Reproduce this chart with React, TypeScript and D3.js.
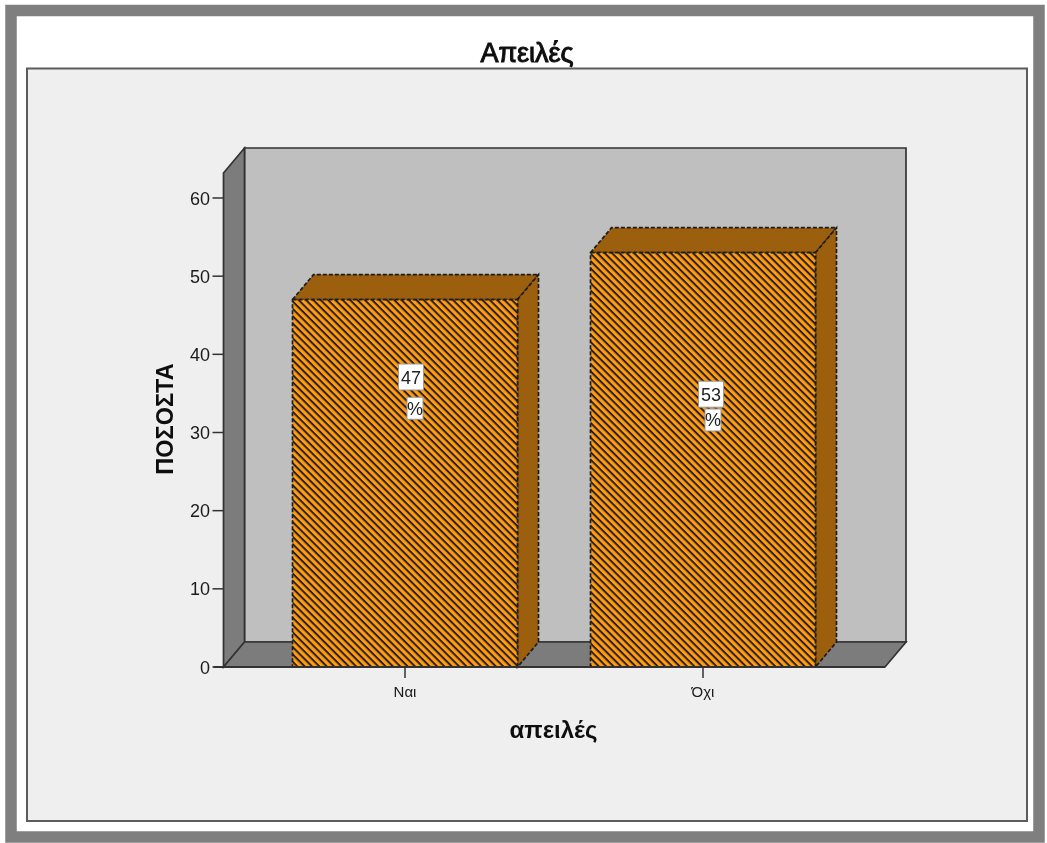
import React from "react";
import * as d3 from "d3";

const categories = ["Ναι", "Όχι"];
const values = [47, 53];
const valueLabels = ["47", "53"];
const labelCenters = [37.1, 34.9];
const percentCenters = [33.1, 31.6];
const yTicks = [0, 10, 20, 30, 40, 50, 60];
const title = "Απειλές";
const xTitle = "απειλές";
const yTitle = "ΠΟΣΟΣΤΑ";

const DX = 21;
const DY = -25;
const FONT = "Arial, 'Liberation Sans', sans-serif";

export default function App() {
  const y = d3.scaleLinear().domain([0, 60]).range([667, 198]);
  const x = d3
    .scaleBand<string>()
    .domain(categories)
    .range([256, 852])
    .paddingInner(0.245)
    .paddingOuter(0.1225);
  const left = 223.5;
  const right = 885;
  const base = y(0);
  const top = 173;
  const poly = (pts: [number, number][]) => pts.map((p) => p.join(",")).join(" ");

  return (
    <svg
      width={1047}
      height={843}
      style={{ position: "absolute", left: 0, top: 0, display: "block" }}
      fontFamily={FONT}
    >
      <defs>
        <pattern id="hatch" width={5.2} height={5.2} patternUnits="userSpaceOnUse" patternTransform="rotate(45)">
          <rect width={5.2} height={5.2} fill="#ff9c14" />
          <rect x={0} y={0} width={5.2} height={2} fill="#2b2110" />
        </pattern>
        <filter id="soft" x="-2%" y="-2%" width="104%" height="104%">
          <feGaussianBlur stdDeviation={0.55} />
        </filter>
      </defs>
      <rect x={0} y={0} width={1047} height={843} fill="#ffffff" />
      <g filter="url(#soft)">
        <rect x={11} y={10.5} width={1028} height={826.5} fill="#ffffff" stroke="#7f7f7f" strokeWidth={11.5} />
        <rect x={27} y={68.5} width={1000} height={752.5} fill="#efefef" stroke="#5c5c5c" strokeWidth={2} />

        <polygon points={poly([[left + DX, top + DY], [right + DX, top + DY], [right + DX, base + DY], [left + DX, base + DY]])} fill="#bfbfbf" stroke="#333" strokeWidth={1.7} />
        <polygon points={poly([[left, top], [left + DX, top + DY], [left + DX, base + DY], [left, base]])} fill="#7c7c7c" stroke="#333" strokeWidth={1.7} />
        <polygon points={poly([[left, base], [left + DX, base + DY], [right + DX, base + DY], [right, base]])} fill="#7c7c7c" stroke="#333" strokeWidth={1.7} />

        {categories.map((c, i) => {
          const x0 = x(c)!;
          const x1 = x0 + x.bandwidth();
          const t = y(values[i]);
          const dash = { stroke: "#1d1d1d", strokeWidth: 1.7, strokeDasharray: "4 2" };
          return (
            <g key={c}>
              <polygon points={poly([[x0, t], [x0 + DX, t + DY], [x1 + DX, t + DY], [x1, t]])} fill="#9c5f0e" {...dash} />
              <polygon points={poly([[x1, t], [x1 + DX, t + DY], [x1 + DX, base + DY], [x1, base]])} fill="#9c5f0e" {...dash} />
              <rect x={x0} y={t} width={x.bandwidth()} height={base - t} fill="url(#hatch)" {...dash} />
            </g>
          );
        })}

        <line x1={left - 10} x2={right} y1={base} y2={base} stroke="#333" strokeWidth={1.8} />
        {yTicks.map((t) => (
          <line key={t} x1={left - 11} x2={left} y1={y(t)} y2={y(t)} stroke="#333" strokeWidth={1.5} />
        ))}
        {categories.map((c) => {
          const cx = x(c)! + x.bandwidth() / 2;
          return <line key={c} x1={cx} x2={cx} y1={base} y2={base + 11} stroke="#333" strokeWidth={1.5} />;
        })}

        {categories.map((c, i) => {
          const cx = x(c)! + x.bandwidth() / 2;
          const vy = y(labelCenters[i]);
          const py = y(percentCenters[i]);
          const lx = cx + (i === 0 ? 6 : 8);
          const px = cx + 10;
          return (
            <g key={c}>
              <rect x={lx - 12.5} y={vy - 13} width={25} height={26} fill="#fff" stroke="#999" strokeWidth={1} />
              <rect x={px - 8} y={py - 11} width={16} height={22} fill="#fff" stroke="#999" strokeWidth={1} />
              <text x={lx} y={vy + 6.5} textAnchor="middle" fontSize={18} fill="#222">{valueLabels[i]}</text>
              <text x={px} y={py + 6.5} textAnchor="middle" fontSize={18} fill="#222">%</text>
            </g>
          );
        })}

        {yTicks.map((t) => (
          <text key={t} x={210} y={y(t) + 6.5} textAnchor="end" fontSize={18} fill="#1a1a1a">{t}</text>
        ))}
        {categories.map((c) => (
          <text key={c} x={x(c)! + x.bandwidth() / 2} y={697} textAnchor="middle" fontSize={15} fill="#1a1a1a">{c}</text>
        ))}
        <text x={527} y={62} textAnchor="middle" fontSize={27} fontWeight={500} fill="#111" stroke="#111" strokeWidth={1}>{title}</text>
        <text x={553.5} y={738} textAnchor="middle" fontSize={24} fontWeight={700} fill="#111">{xTitle}</text>
        <text transform="translate(172.5,419) rotate(-90)" textAnchor="middle" fontSize={23.5} fontWeight={700} fill="#111">{yTitle}</text>
      </g>
    </svg>
  );
}
